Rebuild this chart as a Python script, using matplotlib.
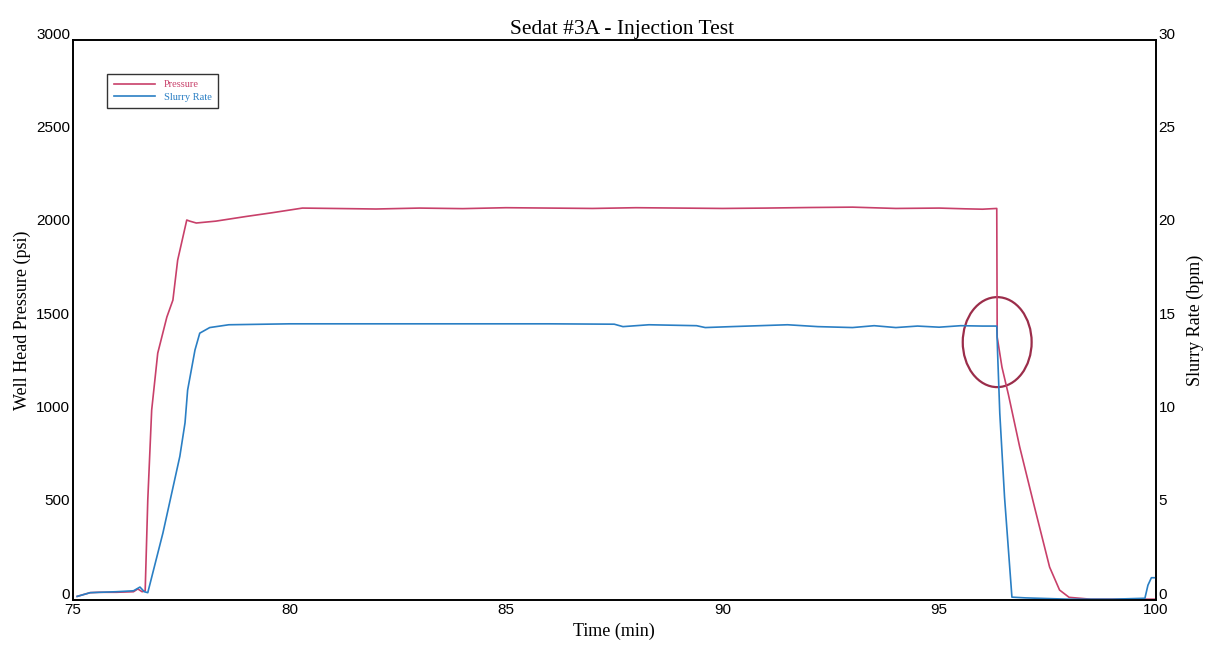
import matplotlib.pyplot as plt
from matplotlib.patches import Ellipse
from matplotlib.transforms import ScaledTranslation

# pressure trace (psi)
time_p = [75.1, 75.4, 75.6, 76.0, 76.4, 76.5, 76.6, 76.67, 76.73, 76.82, 76.96, 77.17,
          77.31, 77.42, 77.63, 77.7, 77.85, 78.3, 79.0, 79.6, 80.3, 81, 82, 83, 84, 85,
          86, 87, 88, 89, 90, 91, 92, 93, 94, 95, 95.6, 96.0, 96.33, 96.34, 96.45, 96.6,
          96.86, 97.2, 97.55, 97.78, 98.0, 98.5, 99, 99.5, 100]
pressure = [20, 40, 42, 42, 45, 60, 45, 50, 536, 1018, 1323, 1516,
            1607, 1821, 2036, 2030, 2020, 2030, 2055, 2075, 2100, 2098, 2095, 2100, 2097, 2102,
            2100, 2098, 2102, 2100, 2098, 2100, 2103, 2105, 2098, 2100, 2096, 2094, 2098, 1409, 1248, 1100,
            820, 500, 177, 54, 15, 5, 5, 5, 5]

# slurry rate trace (bpm)
time_r = [75.1, 75.4, 76.0, 76.4, 76.55, 76.65, 76.73, 77.08, 77.47, 77.59, 77.65, 77.82,
          77.93, 78.16, 78.6, 80, 82, 84, 86, 87.5, 87.7, 88.3, 89.4, 89.6, 90.2, 91.5,
          92.2, 93, 93.5, 94, 94.5, 95, 95.5, 96, 96.33, 96.35, 96.40, 96.51, 96.68, 97,
          98, 99, 99.75, 99.82, 99.9, 100]
rate = [0.2, 0.4, 0.45, 0.5, 0.7, 0.45, 0.4, 3.6, 7.7, 9.5, 11.25, 13.4,
        14.3, 14.6, 14.75, 14.8, 14.8, 14.8, 14.8, 14.78, 14.65, 14.75, 14.7, 14.6, 14.65, 14.75,
        14.65, 14.6, 14.7, 14.6, 14.68, 14.62, 14.7, 14.68, 14.68, 13.2, 10.0, 5.5, 0.16, 0.12,
        0.05, 0.05, 0.1, 0.8, 1.2, 1.2]

x_ticks = [75, 80, 85, 90, 95, 100]
p_ticks = [0, 500, 1000, 1500, 2000, 2500, 3000]
r_ticks = [0, 5, 10, 15, 20, 25, 30]

serif = 'Liberation Serif'
sans = 'Liberation Sans'
p_color = '#c8406a'
r_color = '#2a7fc4'

fig = plt.figure(figsize=(12.14, 6.46), dpi=100)
ax = fig.add_axes([0.060, 0.071, 0.892, 0.867])
ax2 = ax.twinx()

lp, = ax.plot(time_p, pressure, color=p_color, linewidth=1.2, label='Pressure')
lr, = ax2.plot(time_r, rate, color=r_color, linewidth=1.2, label='Slurry Rate')

ax.set_xlim(75, 100)
ax.set_ylim(0, 3000)
ax2.set_ylim(0, 30)
ax.set_xticks(x_ticks)
ax.set_yticks(p_ticks)
ax2.set_yticks(r_ticks)

for a in (ax, ax2):
    a.tick_params(length=0, labelsize=11, pad=2)
    for lab in a.get_xticklabels() + a.get_yticklabels():
        lab.set_fontfamily(sans)
    for sp in a.spines.values():
        sp.set_linewidth(1.2)

# labels sit a little above their tick level, as in the scan
shift = ScaledTranslation(0, 5 / 72, fig.dpi_scale_trans)
for lab in ax.get_yticklabels() + ax2.get_yticklabels():
    lab.set_transform(lab.get_transform() + shift)

ax.set_title('Sedat #3A - Injection Test', fontsize=15.5, family=serif, pad=4, x=0.507)
ax.set_xlabel('Time (min)', fontsize=13, family=serif, labelpad=4)
ax.set_ylabel('Well Head Pressure (psi)', fontsize=13, family=serif, labelpad=4)
ax2.set_ylabel('Slurry Rate (bpm)', fontsize=13, family=serif, labelpad=8)

# circled drop at shut-in
ax.add_patch(Ellipse((96.34, 1382), 1.59, 482, fill=False, edgecolor='#9b2d4a', linewidth=1.6))

leg = ax2.legend([lp, lr], ['Pressure', 'Slurry Rate'], loc='upper left',
                 bbox_to_anchor=(0.032, 0.94), borderaxespad=0,
                 prop={'family': serif, 'size': 7.5},
                 frameon=True, fancybox=False, edgecolor='black', handlelength=4,
                 borderpad=0.6, labelspacing=0.3)
leg.get_frame().set_linewidth(1.0)
for txt, c in zip(leg.get_texts(), [p_color, r_color]):
    txt.set_color(c)

fig.savefig('out.png', dpi=100)
